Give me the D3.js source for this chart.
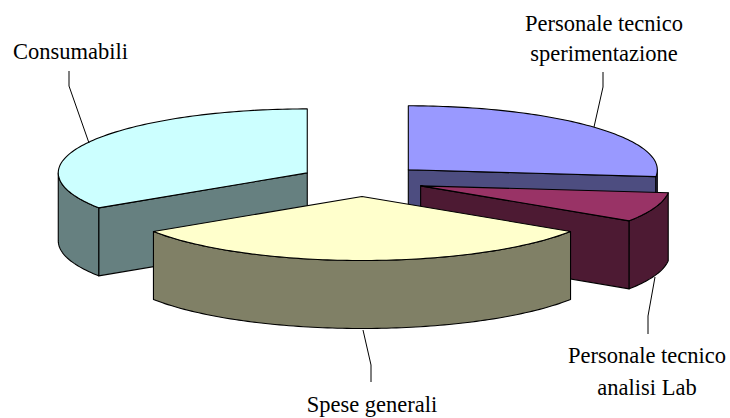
<!DOCTYPE html>
<html>
<head>
<meta charset="utf-8">
<script src="https://cdn.jsdelivr.net/npm/d3@7"></script>
<style>
  html, body { margin: 0; padding: 0; background: #fff; }
  svg { display: block; }
  text { font-family: "Liberation Serif", "Times New Roman", serif; font-size: 22.5px; fill: #000; }
</style>
</head>
<body>
<svg id="chart" width="730" height="418"></svg>
<script>
// Share of the budget per item, clockwise from twelve o'clock
const categories = ["Personale tecnico sperimentazione", "Personale tecnico analisi Lab", "Spese generali", "Consumabili"];
const shares = [26.7, 7.5, 31.6, 34.2];
const topColors = ["#9999FF", "#993366", "#FFFFCC", "#CCFFFF"];
const wallColors = ["#4D4D80", "#4D1A33", "#808066", "#668080"];
const labelLines = [["Personale tecnico", "sperimentazione"], ["Personale tecnico", "analisi Lab"], ["Spese generali"], ["Consumabili"]];
const labelAnchors = [[604, 31], [647, 363], [372, 412], [13, 59]];
const labelAlign = ["middle", "middle", "middle", "start"];
const leaders = [
  [[603, 72], [603, 87], [594, 127]],
  [[648, 334], [648, 316], [655, 277]],
  [[371, 382], [371, 365], [363, 330]],
  [[69, 71], [69, 86], [89, 143]]
];

// Tilted-disc projection: unit circle coordinates to pixels
const centerX = 362, centerY = 180.5, radiusX = 249, radiusY = 64;
const depth = 68, explode = 0.25;
const px = d3.scaleLinear().domain([-1, 1]).range([centerX - radiusX, centerX + radiusX]);
const py = d3.scaleLinear().domain([-1, 1]).range([centerY - radiusY, centerY + radiusY]);

const slices = d3.pie().sort(null).value(d => d)(shares);
const svg = d3.select("#chart");
const line = d3.line();

// Painter's order: back slices first, the front slice last
const drawOrder = [0, 3, 1, 2];

function rimPoints(a0, a1, ox, oy, drop) {
  const n = Math.max(2, Math.ceil(Math.abs(a1 - a0) / 0.02));
  return d3.range(n + 1).map(i => {
    const a = a0 + (a1 - a0) * i / n;
    return [px(ox + Math.sin(a)), py(oy - Math.cos(a)) + drop];
  });
}

const strokeStyle = sel => sel.attr("stroke", "#000").attr("stroke-width", 1.1).attr("stroke-linejoin", "round");

drawOrder.forEach(i => {
  const s = slices[i];
  const mid = (s.startAngle + s.endAngle) / 2;
  const ox = explode * Math.sin(mid), oy = -explode * Math.cos(mid);
  const apex = [px(ox), py(oy)];
  const apexLow = [apex[0], apex[1] + depth];
  const g = svg.append("g").attr("class", "slice");

  // Radial wall, only when it turns towards the viewer
  [[s.startAngle, Math.sin(s.startAngle) < -1e-6], [s.endAngle, Math.sin(s.endAngle) > 1e-6]].forEach(([a, show]) => {
    if (!show) return;
    const edge = rimPoints(a, a, ox, oy, 0)[0];
    g.append("path")
      .attr("d", line([apex, edge, [edge[0], edge[1] + depth], apexLow]) + "Z")
      .attr("fill", wallColors[i]).call(strokeStyle);
  });

  // Outer wall along the front half of the rim
  const a0 = Math.max(s.startAngle, Math.PI / 2), a1 = Math.min(s.endAngle, 3 * Math.PI / 2);
  if (a1 > a0) {
    const upper = rimPoints(a0, a1, ox, oy, 0);
    const lower = rimPoints(a1, a0, ox, oy, depth);
    g.append("path")
      .attr("d", line(upper.concat(lower)) + "Z")
      .attr("fill", wallColors[i]).call(strokeStyle);
  }

  // Top face
  g.append("path")
    .attr("d", line([apex].concat(rimPoints(s.startAngle, s.endAngle, ox, oy, 0))) + "Z")
    .attr("fill", topColors[i]).call(strokeStyle);
});

// Leader lines from the labels to the slices
svg.append("g").selectAll("path").data(leaders).join("path")
  .attr("d", d => line(d)).attr("fill", "none")
  .attr("stroke", "#000").attr("stroke-width", 1);

// Category labels
categories.forEach((name, i) => {
  const t = svg.append("text").attr("text-anchor", labelAlign[i])
    .attr("transform", `translate(${labelAnchors[i][0]},${labelAnchors[i][1]})`);
  labelLines[i].forEach((row, k) => {
    t.append("tspan").attr("x", 0).attr("y", k * (i === 0 ? 30 : 32)).text(row);
  });
});
</script>
</body>
</html>
